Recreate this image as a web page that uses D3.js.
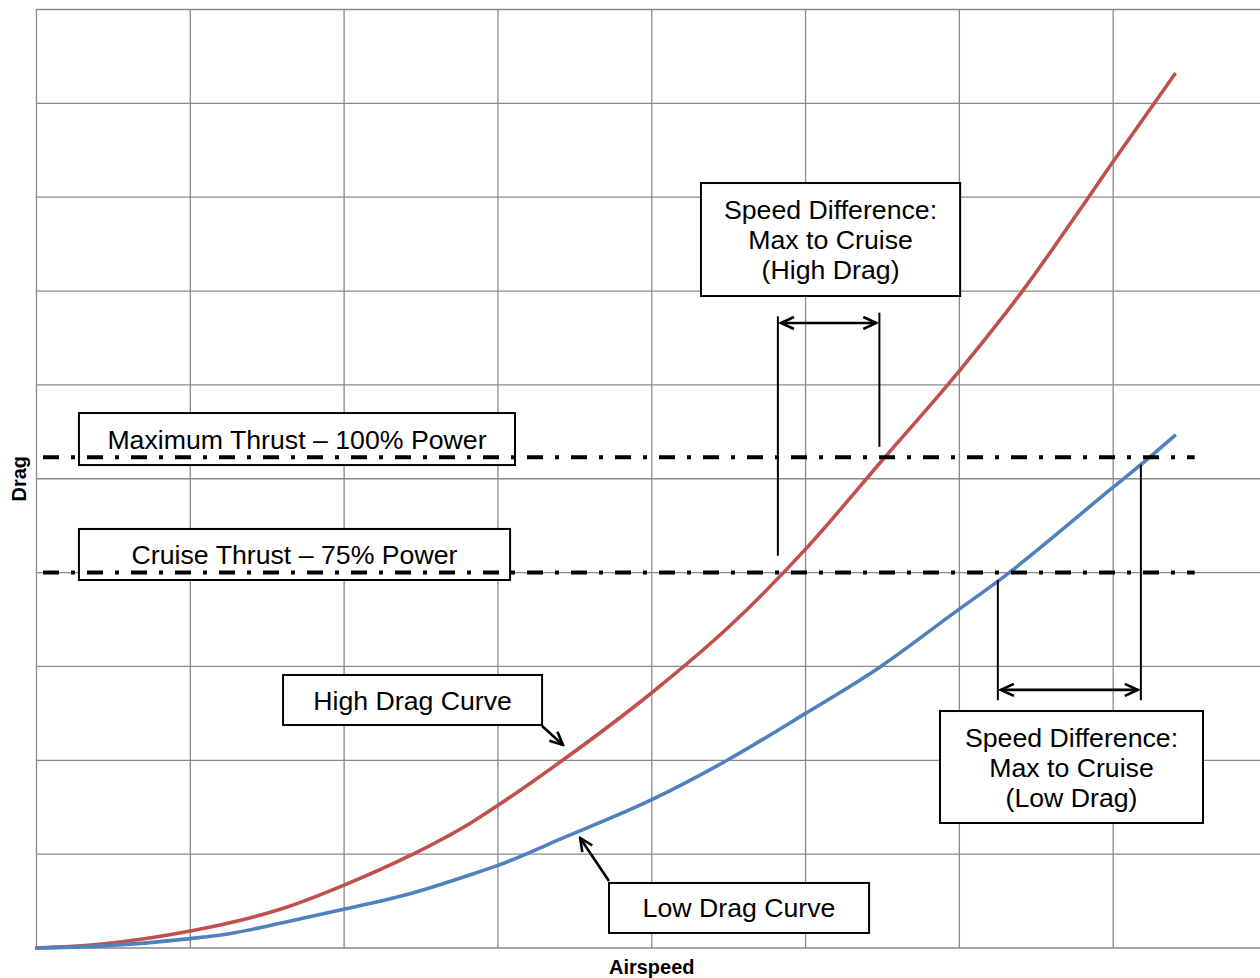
<!DOCTYPE html>
<html>
<head>
<meta charset="utf-8">
<script src="https://cdn.jsdelivr.net/npm/d3@7"></script>
<style>
  body { margin: 0; background: #fff; }
  svg { display: block; }
  text { font-family: "Liberation Sans", Arial, sans-serif; }
</style>
</head>
<body>
<svg id="chart" width="1260" height="978"></svg>
<script>
// values (grid units: airspeed 0..8, drag 0..10)
const highX    = [0, 0.41, 1.00, 1.60, 2.00, 2.41, 2.82, 3.00, 3.42, 4.00, 4.50, 5.00, 5.50, 6.00, 6.41, 6.84, 7.00, 7.40]
const highDrag = [0, 0.04, 0.18, 0.42, 0.67, 0.97, 1.33, 1.52, 2.00, 2.72, 3.42, 4.25, 5.20, 6.15, 7.00, 8.00, 8.38, 9.31]
const lowX     = [0, 0.41, 1.00, 1.28, 1.60, 1.99, 2.41, 2.82, 3.00, 3.42, 4.00, 4.49, 5.00, 5.48, 5.99, 6.26, 7.00, 7.18, 7.40]
const lowDrag  = [0, 0.02, 0.10, 0.16, 0.27, 0.41, 0.57, 0.78, 0.88, 1.17, 1.58, 2.00, 2.50, 2.99, 3.60, 3.92, 4.91, 5.15, 5.46]

const thrustLevels = [5.23, 4.0]
const thrustLabels = ["Maximum Thrust \u2013 100% Power", "Cruise Thrust \u2013 75% Power"]

// airspeeds where each curve meets cruise / max thrust
const highSpan = [4.82, 5.48]
const lowSpan  = [6.25, 7.18]

const xTicks = [0, 1, 2, 3, 4, 5, 6, 7, 8]
const yTicks = [0, 1, 2, 3, 4, 5, 6, 7, 8, 9, 10]

const svg = d3.select("#chart")
const W = 1260

const x = d3.scaleLinear().domain([0, 8]).range([36.5, 1267])
const y = d3.scaleLinear().domain([0, 10]).range([948, 9.5])

/* marker for arrow heads */
svg.append("defs").append("marker")
  .attr("id", "head")
  .attr("viewBox", "0 0 16 14")
  .attr("refX", 14).attr("refY", 7)
  .attr("markerWidth", 16).attr("markerHeight", 14)
  .attr("markerUnits", "userSpaceOnUse")
  .attr("orient", "auto-start-reverse")
  .append("path")
  .attr("d", "M1,1 L14,7 L1,13")
  .attr("fill", "none")
  .attr("stroke", "#000")
  .attr("stroke-width", 2.6)

/* grid */
const grid = svg.append("g").attr("stroke", "#8a8a8a").attr("stroke-width", 1.3)
grid.selectAll(".vx").data(xTicks).enter().append("line")
  .attr("x1", d => x(d)).attr("x2", d => x(d))
  .attr("y1", y(10)).attr("y2", y(0))
grid.selectAll(".hy").data(yTicks).enter().append("line")
  .attr("x1", x(0)).attr("x2", W)
  .attr("y1", d => y(d)).attr("y2", d => y(d))

/* curves */
const line = d3.line().curve(d3.curveMonotoneX).x(d => x(d[0])).y(d => y(d[1]))
svg.append("path")
  .datum(d3.zip(highX, highDrag))
  .attr("d", line)
  .attr("fill", "none").attr("stroke", "#C0504D").attr("stroke-width", 3.6)
  .attr("stroke-linecap", "round").attr("stroke-linejoin", "round")
svg.append("path")
  .datum(d3.zip(lowX, lowDrag))
  .attr("d", line)
  .attr("fill", "none").attr("stroke", "#4F81BD").attr("stroke-width", 3.6)
  .attr("stroke-linecap", "round").attr("stroke-linejoin", "round")

/* text boxes, in chart units: [left, right, top, bottom] */
function box(b, lines) {
  const g = svg.append("g")
  g.append("rect")
    .attr("x", x(b[0])).attr("y", y(b[2]))
    .attr("width", x(b[1]) - x(b[0])).attr("height", y(b[3]) - y(b[2]))
    .attr("fill", "#fff").attr("stroke", "#000").attr("stroke-width", 2)
  const cx = (x(b[0]) + x(b[1])) / 2
  const cy = (y(b[2]) + y(b[3])) / 2
  const t = g.append("text")
    .attr("text-anchor", "middle")
    .attr("font-size", 26.7)
    .attr("fill", "#000")
  lines.forEach(function(s, i) {
    t.append("tspan")
      .attr("x", cx)
      .attr("y", cy + 9.5 + (i - (lines.length - 1) / 2) * 30)
      .text(s)
  })
}

box([0.276, 3.111, 5.70, 5.146], [thrustLabels[0]])
box([0.276, 3.079, 4.465, 3.921], [thrustLabels[1]])
box([4.32, 6.005, 8.151, 6.947], ["Speed Difference:", "Max to Cruise", "(High Drag)"])
box([1.603, 3.287, 2.909, 2.376], ["High Drag Curve"])
box([3.722, 5.413, 0.693, 0.160], ["Low Drag Curve"])
box([5.874, 7.584, 2.525, 1.332], ["Speed Difference:", "Max to Cruise", "(Low Drag)"])

/* thrust lines (dash-dot) */
svg.selectAll(".thrust").data(thrustLevels).enter().append("line")
  .attr("x1", 42).attr("x2", x(7.53))
  .attr("y1", d => y(d)).attr("y2", d => y(d))
  .attr("stroke", "#000").attr("stroke-width", 4)
  .attr("stroke-dasharray", "16 12 4 12")
  .attr("stroke-dashoffset", -1)

/* speed difference markers */
function vline(xv, y1, y2) {
  svg.append("line")
    .attr("x1", x(xv)).attr("x2", x(xv))
    .attr("y1", y(y1)).attr("y2", y(y2))
    .attr("stroke", "#000").attr("stroke-width", 2)
}
function arrow(x1, y1, x2, y2, both) {
  const a = svg.append("line")
    .attr("x1", x(x1)).attr("y1", y(y1))
    .attr("x2", x(x2)).attr("y2", y(y2))
    .attr("stroke", "#000").attr("stroke-width", 2.6)
    .attr("marker-end", "url(#head)")
  if (both) a.attr("marker-start", "url(#head)")
}

vline(highSpan[0], 6.73, 4.18)
vline(highSpan[1], 6.77, 5.34)
arrow(highSpan[0] + 0.02, 6.66, highSpan[1] - 0.02, 6.66, true)

vline(lowSpan[0], 3.92, 2.64)
vline(lowSpan[1], 5.15, 2.64)
arrow(lowSpan[0] + 0.02, 2.75, lowSpan[1] - 0.02, 2.75, true)

// pointers from curve labels
arrow(3.287, 2.366, 3.423, 2.163, false)
arrow(3.722, 0.714, 3.534, 1.172, false)

/* axis titles */
svg.append("text")
  .attr("x", x(4)).attr("y", 974)
  .attr("text-anchor", "middle")
  .attr("font-size", 20).attr("font-weight", "bold")
  .text("Airspeed")
svg.append("text")
  .attr("transform", "translate(26," + y(5) + ") rotate(-90)")
  .attr("text-anchor", "middle")
  .attr("font-size", 20).attr("font-weight", "bold")
  .text("Drag")
</script>
</body>
</html>
